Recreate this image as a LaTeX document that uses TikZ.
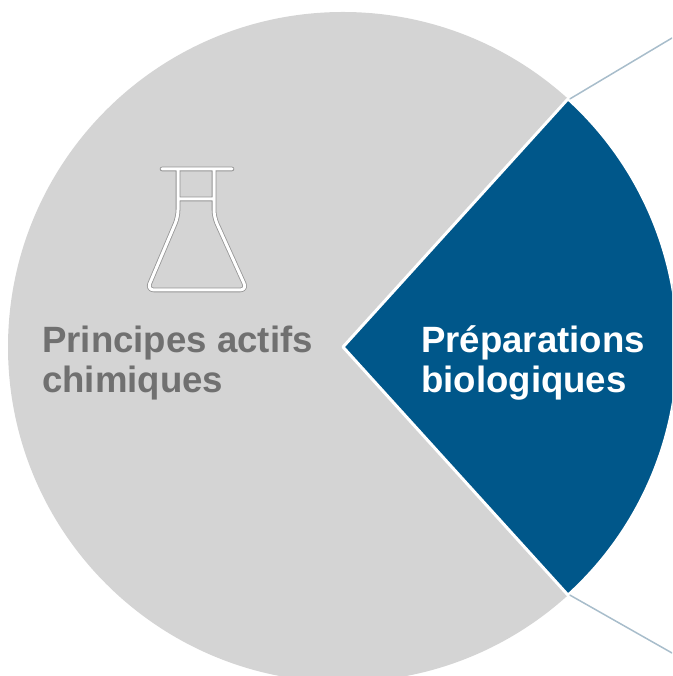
\documentclass[tikz,border=0pt]{standalone}
\usepackage{fontspec}
\setmainfont{Liberation Sans}
\definecolor{piegray}{HTML}{D4D4D4}
\definecolor{pieblue}{HTML}{00578A}
\definecolor{labelgray}{HTML}{707070}
\definecolor{linkgray}{HTML}{A8BDCB}
\begin{document}
\begin{tikzpicture}[x=1pt, y=1pt, line join=round, line cap=round,
	label/.style={font=\fontsize{36.6}{40}\selectfont\bfseries, align=left, anchor=base west, inner sep=0pt}]
	\useasboundingbox (0,0) rectangle (672,676);
	\clip (0,0) rectangle (672,676);
	\path
	(343,329) coordinate (O)
	(O)+(47.8:335) coordinate (M)
	(O)+(-47.8:335) coordinate (N)
	(672,638) coordinate (P)
	(672,23) coordinate (Q)
	;
	\fill[piegray] (O) circle (335);
	\filldraw[fill=pieblue, draw=white, line width=3pt] (O)--(N) arc (-47.8:47.8:335)--cycle;
	\draw[linkgray, line width=1.5pt] (M)+(2,0)--(P) (N)+(2,0)--(Q);
	% flask
	\foreach \c/\w in {piegray!70!black/4.6pt, white/3pt}
	\draw[\c, line width=\w, rounded corners=7pt] (178,505)--(178,459)--(147,386)--(247,386)--(214,459)--(214,505)
	(162,507)--(232,507) (178,477)--(214,477);
	\node[label, text=labelgray] (chem) at (42,283) {Principes actifs\\chimiques};
	\node[label, text=white] (bio) at (421,283) {Préparations\\biologiques};
\end{tikzpicture}
\end{document}
